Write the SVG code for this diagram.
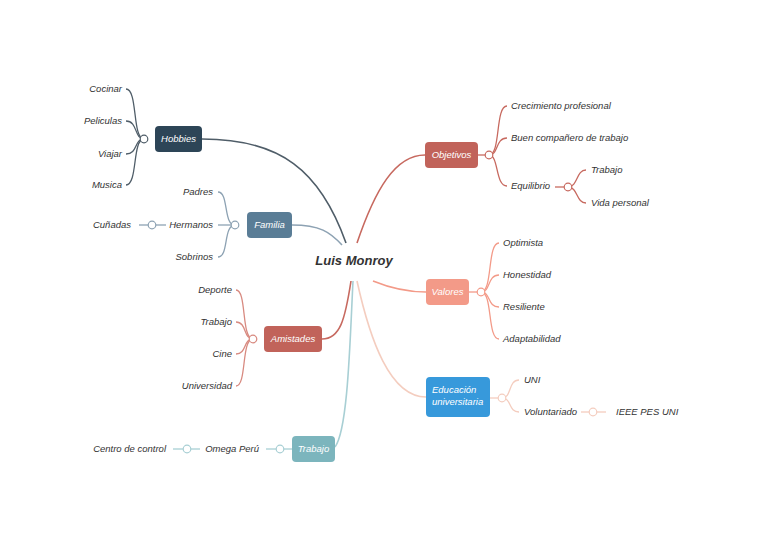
<svg xmlns="http://www.w3.org/2000/svg" width="768" height="543" viewBox="0 0 768 543">
<style>
text{font-family:"Liberation Sans",Arial,sans-serif;font-style:italic;font-size:9.5px;fill:#333}
.lbl{fill:#fff;font-size:9.5px;text-anchor:middle}
.end{text-anchor:end}
.c{fill:none;stroke-width:1.3}
.dot{fill:#fff;stroke-width:1.2}
</style>
<rect width="768" height="543" fill="#fff"/>
<g id="connectors" fill="none">
  <path d="M202,139 C280,139 320,170 346,243" stroke="#4f5d68" stroke-width="1.6"/>
  <path d="M292,225 C320,225 330,232 342,245" stroke="#8da2b3" stroke-width="1.6"/>
  <path d="M357,243 C375,190 395,155 425,155" stroke="#c7695f" stroke-width="1.6"/>
  <path d="M373,281 C395,290 410,292 426,292" stroke="#f39a88" stroke-width="1.6"/>
  <path d="M351,281 C345,320 340,339 322,339" stroke="#c7695f" stroke-width="1.6"/>
  <path d="M353,281 C350,340 348,430 335,447" stroke="#a8cfd4" stroke-width="1.6"/>
  <path d="M357,281 C370,340 390,397 426,397" stroke="#f4cdbf" stroke-width="1.6"/>
  <g stroke="#4f5d68" class="c">
    <path d="M144,139 C132,139 138,89 126,89"/>
    <path d="M144,139 C134,139 138,121 126,121"/>
    <path d="M144,139 C134,139 138,154 126,154"/>
    <path d="M144,139 C132,139 138,185 126,185"/>
  </g>
  <g stroke="#8da2b3" class="c">
    <path d="M235,225 C223,225 229,192 218,192"/>
    <path d="M235,225 L218,225"/>
    <path d="M235,225 C223,225 229,257 218,257"/>
    <path d="M139,225 L166,225"/>
  </g>
  <g stroke="#d88a80" class="c">
    <path d="M253,339 C241,339 247,290 236,290"/>
    <path d="M253,339 C243,339 247,322 236,322"/>
    <path d="M253,339 C243,339 247,354 236,354"/>
    <path d="M253,339 C241,339 247,386 236,386"/>
  </g>
  <g stroke="#a8cfd4" class="c">
    <path d="M266,449 L292,449"/>
    <path d="M173,449 L200,449"/>
  </g>
  <g stroke="#c7695f" class="c">
    <path d="M478,155 L489,155"/>
    <path d="M489,155 C501,155 495,106 507,106"/>
    <path d="M489,155 C499,155 495,138 507,138"/>
    <path d="M489,155 C499,155 495,186 507,186"/>
    <path d="M555,187 L568,187"/>
    <path d="M568,187 C578,187 576,170 586,170"/>
    <path d="M568,187 C578,187 576,203 586,203"/>
  </g>
  <g stroke="#f39a88" class="c">
    <path d="M469,292 L481,292"/>
    <path d="M481,292 C493,292 487,243 499,243"/>
    <path d="M481,292 C491,292 487,275 499,275"/>
    <path d="M481,292 C491,292 487,307 499,307"/>
    <path d="M481,292 C493,292 487,339 499,339"/>
  </g>
  <g stroke="#f4cdbf" class="c">
    <path d="M490,398 L502,398"/>
    <path d="M502,398 C512,398 508,380 519,380"/>
    <path d="M502,398 C512,398 508,412 519,412"/>
    <path d="M581,412 L606,412"/>
  </g>
  <circle cx="144" cy="139" r="3.8" class="dot" stroke="#4f5d68"/>
  <circle cx="235" cy="225" r="3.8" class="dot" stroke="#8da2b3"/>
  <circle cx="152" cy="225" r="3.8" class="dot" stroke="#8da2b3"/>
  <circle cx="253" cy="339" r="3.8" class="dot" stroke="#d88a80"/>
  <circle cx="280" cy="449" r="3.8" class="dot" stroke="#a8cfd4"/>
  <circle cx="187" cy="449" r="3.8" class="dot" stroke="#a8cfd4"/>
  <circle cx="489" cy="155" r="3.8" class="dot" stroke="#c7695f"/>
  <circle cx="568" cy="187" r="3.8" class="dot" stroke="#c7695f"/>
  <circle cx="481" cy="292" r="3.8" class="dot" stroke="#f39a88"/>
  <circle cx="502" cy="398" r="3.8" class="dot" stroke="#f4cdbf"/>
  <circle cx="593" cy="412" r="3.8" class="dot" stroke="#f4cdbf"/>
</g>
<g id="center"><text x="354" y="265" text-anchor="middle" style="font-size:13px;font-weight:bold;fill:#333">Luis Monroy</text></g>
<g id="hobbies">
  <rect x="155" y="126" width="47" height="26" rx="4" fill="#2d4557"/>
  <text x="178.5" y="142" class="lbl">Hobbies</text>
  <text x="122" y="92" class="end">Cocinar</text>
  <text x="122" y="124" class="end">Peliculas</text>
  <text x="122" y="157" class="end">Viajar</text>
  <text x="122" y="188" class="end">Musica</text>
</g>
<g id="familia">
  <rect x="247" y="212" width="45" height="26" rx="4" fill="#5a7d96"/>
  <text x="269.5" y="228" class="lbl">Familia</text>
  <text x="213" y="195" class="end">Padres</text>
  <text x="213" y="228" class="end">Hermanos</text>
  <text x="213" y="260" class="end">Sobrinos</text>
  <text x="131" y="228" class="end">Cuñadas</text>
</g>
<g id="amistades">
  <rect x="264" y="326" width="58" height="26" rx="4" fill="#c1635a"/>
  <text x="293" y="342" class="lbl">Amistades</text>
  <text x="232" y="293" class="end">Deporte</text>
  <text x="232" y="325" class="end">Trabajo</text>
  <text x="232" y="357" class="end">Cine</text>
  <text x="232" y="389" class="end">Universidad</text>
</g>
<g id="trabajo">
  <rect x="292" y="436" width="43" height="26" rx="4" fill="#7cb5bd"/>
  <text x="313.5" y="452" class="lbl">Trabajo</text>
  <text x="259" y="452" class="end">Omega Perú</text>
  <text x="166" y="452" class="end">Centro de control</text>
</g>
<g id="objetivos">
  <rect x="425" y="142" width="53" height="26" rx="4" fill="#c1635a"/>
  <text x="451.5" y="158" class="lbl">Objetivos</text>
  <text x="511" y="109">Crecimiento profesional</text>
  <text x="511" y="141">Buen compañero de trabajo</text>
  <text x="511" y="189">Equilibrio</text>
  <text x="591" y="173">Trabajo</text>
  <text x="591" y="206">Vida personal</text>
</g>
<g id="valores">
  <rect x="426" y="279" width="43" height="26" rx="4" fill="#f39a88"/>
  <text x="447.5" y="295" class="lbl">Valores</text>
  <text x="503" y="246">Optimista</text>
  <text x="503" y="278">Honestidad</text>
  <text x="503" y="310">Resiliente</text>
  <text x="503" y="342">Adaptabilidad</text>
</g>
<g id="educacion">
  <rect x="426" y="377" width="64" height="40" rx="4" fill="#3799db"/>
  <text x="432" y="393" style="fill:#fff">Educación</text>
  <text x="432" y="405" style="fill:#fff">universitaria</text>
  <text x="524" y="383">UNI</text>
  <text x="524" y="415">Voluntariado</text>
  <text x="616" y="415">IEEE PES UNI</text>
</g>
</svg>
